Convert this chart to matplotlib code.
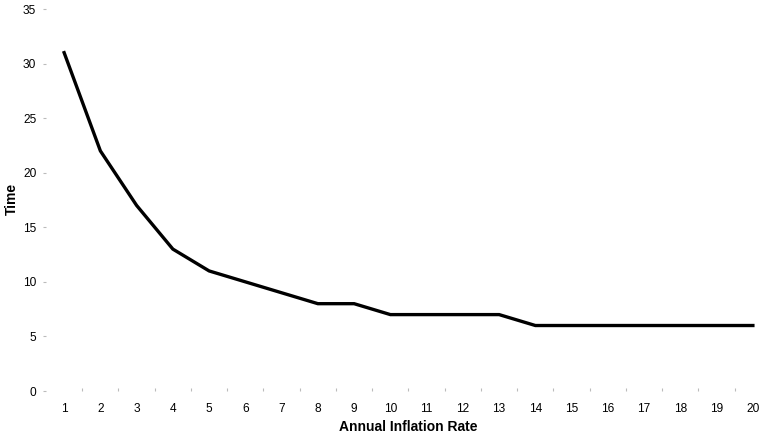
import matplotlib
matplotlib.use('Agg')
import matplotlib.pyplot as plt
import numpy as np

plt.rcParams['font.family'] = ['Liberation Sans', 'DejaVu Sans']

rates = list(range(1, 21))
times = [31, 22, 17, 13, 11, 10, 9, 8, 8, 7, 7, 7, 7, 6, 6, 6, 6, 6, 6, 6]
yticks = [0, 5, 10, 15, 20, 25, 30, 35]

fig = plt.figure(figsize=(7.59, 4.41), dpi=100)
ax = fig.add_axes([46 / 759, 50 / 441, 725 / 759, 382 / 441])

ax.plot(rates, times, color='black', lw=2.4, solid_joinstyle='miter')

ax.set_xlim(0.5, 20.5)
ax.set_ylim(0, 35)
ax.set_xticks(rates)
ax.set_xticks(np.arange(1.5, 20, 1), minor=True)
ax.set_yticks(yticks)

for s in ax.spines.values():
    s.set_visible(False)

ax.tick_params(axis='x', which='major', length=0, pad=9, labelsize=8.6)
ax.tick_params(axis='x', which='minor', length=2, color='#bbbbbb', width=0.8, direction='in')
ax.tick_params(axis='y', which='major', length=2, color='#bbbbbb', width=0.8, pad=5, labelsize=8.6)

ax.set_xlabel('Annual Inflation Rate', fontsize=10, fontweight='bold', labelpad=3)
ax.set_ylabel('Time', fontsize=10, fontweight='bold', va='center')
ax.yaxis.set_label_coords(-34 / 725, 0.503)

fig.savefig('out.png', dpi=100)
